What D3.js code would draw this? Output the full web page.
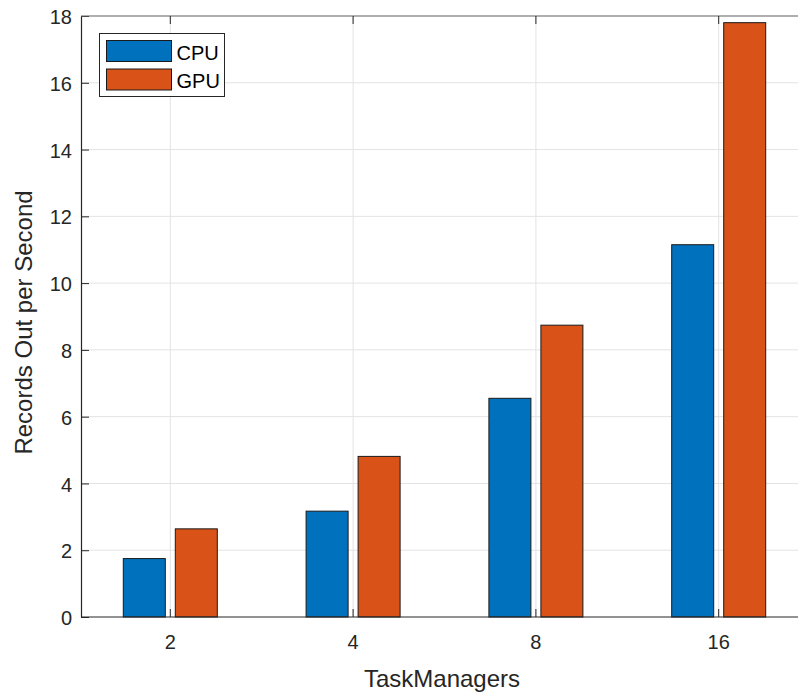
<!DOCTYPE html>
<html>
<head>
<meta charset="utf-8">
<script src="https://cdn.jsdelivr.net/npm/d3@7"></script>
<style>
  html, body { margin: 0; padding: 0; background: #fff; }
  svg { display: block; font-family: "Liberation Sans", Arial, Helvetica, sans-serif; }
</style>
</head>
<body>
<svg id="chart" width="798" height="693"></svg>
<script>
// Throughput per number of TaskManagers
const categories = ["2", "4", "8", "16"];
const seriesNames = ["CPU", "GPU"];
const cpuValues = [1.75, 3.17, 6.55, 11.15];
const gpuValues = [2.64, 4.81, 8.74, 17.80];
const yTicks = [0, 2, 4, 6, 8, 10, 12, 14, 16, 18];
const seriesColors = ["#0072BD", "#D95319"];

const svg = d3.select("#chart");
const plotLeft = 81, plotTop = 16, plotBottom = 617;
const step = 182.8;
const bandStart = 78.9;
const plotRight = bandStart + step * categories.length;

const x = d3.scaleBand().domain(categories).range([bandStart, plotRight]);
const y = d3.scaleLinear().domain([0, 18]).range([plotBottom, plotTop]);

const barW = 42, offset = 26;
const axisColor = "#262626";
const cx = d => x(d) + x.bandwidth() / 2;

// grid
const grid = svg.append("g");
grid.selectAll("line.h").data(yTicks.slice(1)).join("line")
  .attr("x1", plotLeft).attr("x2", plotRight)
  .attr("y1", d => y(d)).attr("y2", d => y(d))
  .attr("stroke", "#e3e3e3").attr("stroke-width", 1);
grid.selectAll("line.v").data(categories).join("line")
  .attr("x1", cx).attr("x2", cx)
  .attr("y1", plotTop).attr("y2", plotBottom)
  .attr("stroke", "#e3e3e3").attr("stroke-width", 1);

// bars
const series = [cpuValues, gpuValues];
series.forEach((vals, si) => {
  svg.append("g").selectAll("rect").data(vals).join("rect")
    .attr("x", (d, i) => cx(categories[i]) + (si === 0 ? -offset : offset) - barW / 2)
    .attr("y", d => y(d))
    .attr("width", barW)
    .attr("height", d => y(0) - y(d))
    .attr("fill", seriesColors[si])
    .attr("stroke", "#1a1a1a").attr("stroke-width", 1);
});

// axes
const xAxis = d3.axisBottom(x).tickSizeInner(-8).tickSizeOuter(0).tickPadding(18);
const gx = svg.append("g").attr("transform", `translate(0,${plotBottom})`).call(xAxis);
gx.select(".domain").attr("d", `M${plotLeft},0H${plotRight}`);
const yAxis = d3.axisLeft(y).tickValues(yTicks).tickSizeInner(-8).tickSizeOuter(0).tickPadding(9);
const gy = svg.append("g").attr("transform", `translate(${plotLeft},0)`).call(yAxis);
[gx, gy].forEach(g => {
  g.select(".domain").attr("stroke", axisColor).attr("stroke-width", 1.2);
  g.selectAll(".tick line").attr("stroke", axisColor).attr("stroke-width", 1);
  g.selectAll(".tick text").attr("fill", axisColor).style("font-size", "20px")
    .style("font-family", "'Liberation Sans', Arial, sans-serif");
});
gy.selectAll(".tick text").attr("dy", "0.38em");

// top frame with ticks
svg.append("line").attr("x1", plotLeft).attr("x2", plotRight).attr("y1", plotTop).attr("y2", plotTop)
  .attr("stroke", "#6e6e6e").attr("stroke-width", 1.2);
svg.append("g").selectAll("line").data(categories).join("line")
  .attr("x1", cx).attr("x2", cx)
  .attr("y1", plotTop).attr("y2", plotTop + 8)
  .attr("stroke", axisColor);

// axis titles
svg.append("text").attr("x", 442).attr("y", 687)
  .attr("text-anchor", "middle").attr("fill", axisColor).style("font-size", "24px")
  .text("TaskManagers");
svg.append("text").attr("transform", `translate(32,${(plotTop + plotBottom) / 2 + 6}) rotate(-90)`)
  .attr("text-anchor", "middle").attr("fill", axisColor).style("font-size", "24px")
  .text("Records Out per Second");

// legend
const lg = svg.append("g");
lg.append("rect").attr("x", 99.5).attr("y", 33.5).attr("width", 125).attr("height", 63)
  .attr("fill", "#fff").attr("stroke", axisColor).attr("stroke-width", 1);
seriesNames.forEach((name, i) => {
  lg.append("rect").attr("x", 106.5).attr("y", 40.5 + i * 28.5).attr("width", 65).attr("height", 21)
    .attr("fill", seriesColors[i]).attr("stroke", "#1a1a1a").attr("stroke-width", 1);
  lg.append("text").attr("x", 176.5).attr("y", 60 + i * 28.3)
    .attr("fill", "#000").style("font-size", "20px").text(name);
});
</script>
</body>
</html>
